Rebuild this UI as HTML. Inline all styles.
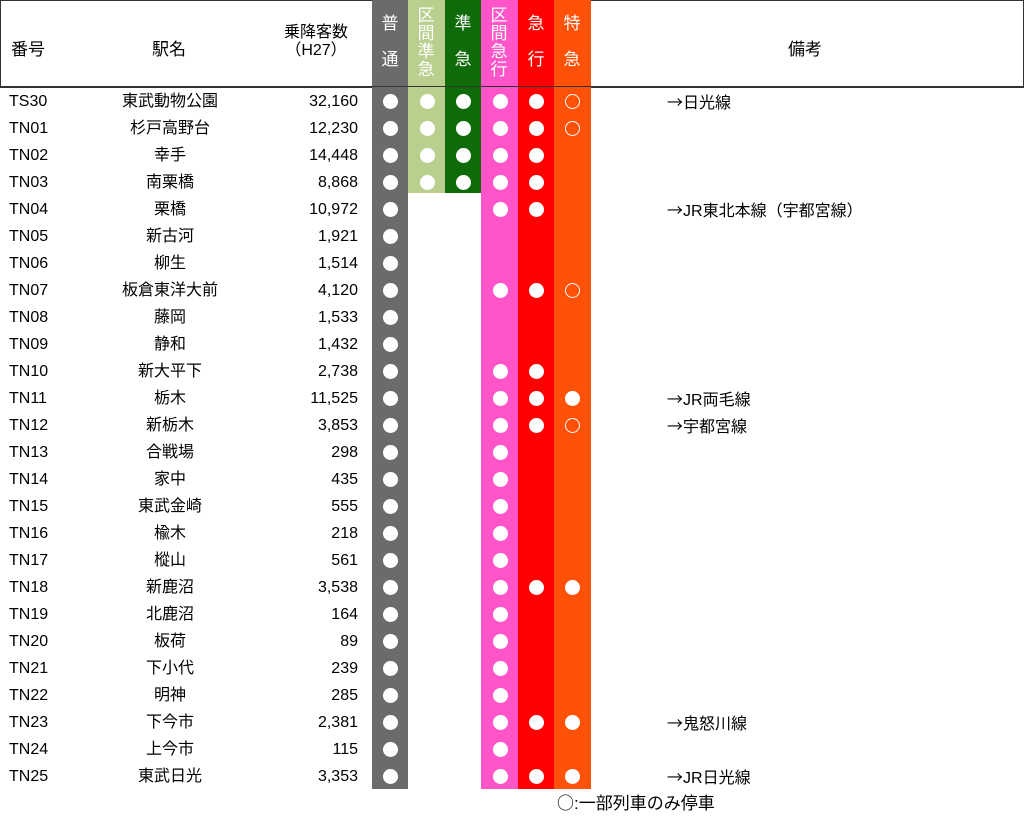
<!DOCTYPE html>
<html><head><meta charset="utf-8"><style>
body{margin:0;width:1024px;height:817px;background:#fff;position:relative;overflow:hidden;font-family:"Liberation Sans","Noto Sans CJK JP",sans-serif;color:#000}
.a{position:absolute}
.hdr{position:absolute;left:0;top:0;width:1022px;height:86px;border:1px solid #333}
.col{position:absolute;top:0}
.ht{position:absolute;color:#fff;font-size:17px;text-align:center;width:36px;line-height:18px}
.r{position:absolute;left:0;width:1024px;height:27px;font-size:16px;line-height:27px}
.n{position:absolute;left:9px}
.s{position:absolute;left:100px;width:140px;text-align:center}
.p{position:absolute;left:280px;width:78px;text-align:right}
.m{position:absolute;left:667px}
.w{font-family:"Noto Sans CJK JP",sans-serif}
.d{position:absolute;top:6px;width:15px;height:15px;border-radius:50%;background:#fff}
.h{position:absolute;top:6px;width:13px;height:13px;border-radius:50%;border:1.5px solid #fff}
.g{left:383px}.l{left:420px}.k{left:456px}.q{left:493px}.e{left:529px}.o{left:565px}
</style></head><body>
<div class="hdr"></div>
<div class="col" style="left:372px;width:36px;height:789px;background:#6b6b6b"></div>
<div class="col" style="left:408px;width:37px;height:193px;background:#b9cf8e"></div>
<div class="col" style="left:445px;width:36px;height:193px;background:#0f6b0a"></div>
<div class="col" style="left:481px;width:37px;height:789px;background:#ff55c8"></div>
<div class="col" style="left:518px;width:36px;height:789px;background:#ff0000"></div>
<div class="col" style="left:554px;width:37px;height:789px;background:#ff5208"></div>
<div class="a" style="left:0;top:86px;width:1024px;height:1px;background:#333"></div>
<div class="ht" style="left:372px;top:15px">普<br><br>通</div>
<div class="ht" style="left:408px;top:7px">区<br>間<br>準<br>急</div>
<div class="ht" style="left:445px;top:15px">準<br><br>急</div>
<div class="ht" style="left:481px;top:7px">区<br>間<br>急<br>行</div>
<div class="ht" style="left:518px;top:15px">急<br><br>行</div>
<div class="ht" style="left:554px;top:15px">特<br><br>急</div>
<div class="a" style="left:11px;top:35px;font-size:17px">番号</div>
<div class="a" style="left:152px;top:35px;font-size:17px">駅名</div>
<div class="a" style="left:270px;top:24px;width:92px;text-align:center;font-size:16px;line-height:18px">乗降客数<br>（H27）</div>
<div class="a" style="left:788px;top:35px;font-size:17px">備考</div>

<div class="r" style="top:88px"><span class="n">TS30</span><span class="s">東武動物公園</span><span class="p">32,160</span><i class="d g"></i><i class="d l"></i><i class="d k"></i><i class="d q"></i><i class="d e"></i><i class="h o"></i><span class="m"><span class="w">→</span>日光線</span></div>
<div class="r" style="top:115px"><span class="n">TN01</span><span class="s">杉戸高野台</span><span class="p">12,230</span><i class="d g"></i><i class="d l"></i><i class="d k"></i><i class="d q"></i><i class="d e"></i><i class="h o"></i></div>
<div class="r" style="top:142px"><span class="n">TN02</span><span class="s">幸手</span><span class="p">14,448</span><i class="d g"></i><i class="d l"></i><i class="d k"></i><i class="d q"></i><i class="d e"></i></div>
<div class="r" style="top:169px"><span class="n">TN03</span><span class="s">南栗橋</span><span class="p">8,868</span><i class="d g"></i><i class="d l"></i><i class="d k"></i><i class="d q"></i><i class="d e"></i></div>
<div class="r" style="top:196px"><span class="n">TN04</span><span class="s">栗橋</span><span class="p">10,972</span><i class="d g"></i><i class="d q"></i><i class="d e"></i><span class="m"><span class="w">→</span>JR東北本線（宇都宮線）</span></div>
<div class="r" style="top:223px"><span class="n">TN05</span><span class="s">新古河</span><span class="p">1,921</span><i class="d g"></i></div>
<div class="r" style="top:250px"><span class="n">TN06</span><span class="s">柳生</span><span class="p">1,514</span><i class="d g"></i></div>
<div class="r" style="top:277px"><span class="n">TN07</span><span class="s">板倉東洋大前</span><span class="p">4,120</span><i class="d g"></i><i class="d q"></i><i class="d e"></i><i class="h o"></i></div>
<div class="r" style="top:304px"><span class="n">TN08</span><span class="s">藤岡</span><span class="p">1,533</span><i class="d g"></i></div>
<div class="r" style="top:331px"><span class="n">TN09</span><span class="s">静和</span><span class="p">1,432</span><i class="d g"></i></div>
<div class="r" style="top:358px"><span class="n">TN10</span><span class="s">新大平下</span><span class="p">2,738</span><i class="d g"></i><i class="d q"></i><i class="d e"></i></div>
<div class="r" style="top:385px"><span class="n">TN11</span><span class="s">栃木</span><span class="p">11,525</span><i class="d g"></i><i class="d q"></i><i class="d e"></i><i class="d o"></i><span class="m"><span class="w">→</span>JR両毛線</span></div>
<div class="r" style="top:412px"><span class="n">TN12</span><span class="s">新栃木</span><span class="p">3,853</span><i class="d g"></i><i class="d q"></i><i class="d e"></i><i class="h o"></i><span class="m"><span class="w">→</span>宇都宮線</span></div>
<div class="r" style="top:439px"><span class="n">TN13</span><span class="s">合戦場</span><span class="p">298</span><i class="d g"></i><i class="d q"></i></div>
<div class="r" style="top:466px"><span class="n">TN14</span><span class="s">家中</span><span class="p">435</span><i class="d g"></i><i class="d q"></i></div>
<div class="r" style="top:493px"><span class="n">TN15</span><span class="s">東武金崎</span><span class="p">555</span><i class="d g"></i><i class="d q"></i></div>
<div class="r" style="top:520px"><span class="n">TN16</span><span class="s">楡木</span><span class="p">218</span><i class="d g"></i><i class="d q"></i></div>
<div class="r" style="top:547px"><span class="n">TN17</span><span class="s">樅山</span><span class="p">561</span><i class="d g"></i><i class="d q"></i></div>
<div class="r" style="top:574px"><span class="n">TN18</span><span class="s">新鹿沼</span><span class="p">3,538</span><i class="d g"></i><i class="d q"></i><i class="d e"></i><i class="d o"></i></div>
<div class="r" style="top:601px"><span class="n">TN19</span><span class="s">北鹿沼</span><span class="p">164</span><i class="d g"></i><i class="d q"></i></div>
<div class="r" style="top:628px"><span class="n">TN20</span><span class="s">板荷</span><span class="p">89</span><i class="d g"></i><i class="d q"></i></div>
<div class="r" style="top:655px"><span class="n">TN21</span><span class="s">下小代</span><span class="p">239</span><i class="d g"></i><i class="d q"></i></div>
<div class="r" style="top:682px"><span class="n">TN22</span><span class="s">明神</span><span class="p">285</span><i class="d g"></i><i class="d q"></i></div>
<div class="r" style="top:709px"><span class="n">TN23</span><span class="s">下今市</span><span class="p">2,381</span><i class="d g"></i><i class="d q"></i><i class="d e"></i><i class="d o"></i><span class="m"><span class="w">→</span>鬼怒川線</span></div>
<div class="r" style="top:736px"><span class="n">TN24</span><span class="s">上今市</span><span class="p">115</span><i class="d g"></i><i class="d q"></i></div>
<div class="r" style="top:763px"><span class="n">TN25</span><span class="s">東武日光</span><span class="p">3,353</span><i class="d g"></i><i class="d q"></i><i class="d e"></i><i class="d o"></i><span class="m"><span class="w">→</span>JR日光線</span></div>
<div class="a" style="left:557px;top:791px;font-size:17px;line-height:22px"><span class="w">○</span>:一部列車のみ停車</div>
</body></html>
